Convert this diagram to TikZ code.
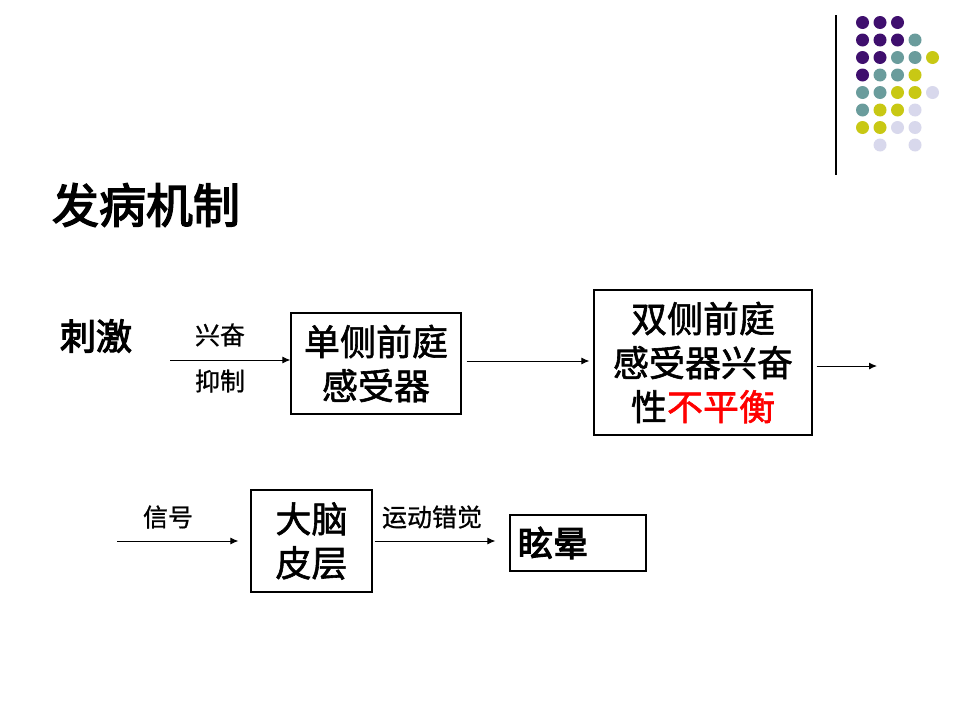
\documentclass[tikz,border=0pt]{standalone}
\usepackage{fontspec}
\setmainfont{Noto Sans CJK SC}
\newfontfamily\cjkmed[FakeBold=1.6]{Noto Sans CJK SC}
\newfontfamily\cjklbl[FakeBold=0.8]{Noto Sans CJK SC}
\newfontfamily\cjkhvy[FakeBold=3]{Noto Sans CJK SC}
\usetikzlibrary{arrows.meta}
\definecolor{dpurple}{HTML}{3F0F6E}
\definecolor{dteal}{HTML}{6A9C9C}
\definecolor{dyellow}{HTML}{C8C814}
\definecolor{dlav}{HTML}{D8D8EC}
\definecolor{dred}{HTML}{FF0000}
\tikzset{
  boxn/.style={draw=black, line width=1.2pt, align=center, inner sep=0pt,
    font=\cjkmed\fontsize{36}{44}\selectfont},
  lbl/.style={font=\cjklbl\fontsize{25}{30}\selectfont, inner sep=0pt},
  arr/.style={draw=black, line width=1pt, -{Latex[length=8pt,width=7pt]}},
  dot/.style={circle, minimum size=13pt, inner sep=0pt}
}
\begin{document}
\begin{tikzpicture}[x=1pt,y=-1pt]
\useasboundingbox (0,0) rectangle (960,720);
\fill[white] (0,0) rectangle (960,720);
% decorative line and dots
\draw[line width=1.2pt] (836,15) -- (836,175);
\foreach \c/\r/\col in {0/0/dpurple,1/0/dpurple,2/0/dpurple,
  0/1/dpurple,1/1/dpurple,2/1/dpurple,3/1/dteal,
  0/2/dpurple,1/2/dpurple,2/2/dteal,3/2/dteal,4/2/dyellow,
  0/3/dpurple,1/3/dteal,2/3/dteal,3/3/dyellow,
  0/4/dteal,1/4/dteal,2/4/dyellow,3/4/dyellow,4/4/dlav,
  0/5/dteal,1/5/dyellow,2/5/dyellow,3/5/dlav,
  0/6/dyellow,1/6/dyellow,2/6/dlav,3/6/dlav,
  1/7/dlav,3/7/dlav}
  \node[dot, fill=\col] (d\c\r) at ({862.5+17.5*\c},{22.5+17.5*\r}) {};
% title
\node[font=\cjkhvy\fontsize{47}{50}\selectfont, inner sep=0pt] (title) at (146,205) {发病机制};
\node[font=\cjkhvy\fontsize{36}{40}\selectfont, inner sep=0pt] (stim) at (96,336) {刺激};
% row 1
\node[lbl] (xf) at (220,335) {兴奋};
\node[lbl] (yz) at (220,381) {抑制};
\coordinate (s1) at (170,360);
\node[boxn, minimum width=170pt, minimum height=101pt] (b1) at (376,363.5) {单侧前庭\\感受器};
\node[boxn, minimum width=218pt, minimum height=145pt] (b2) at (703,362.5) {双侧前庭\\感受器兴奋\\性\textcolor{dred}{不平衡}};
\coordinate (e3) at (877,366);
\draw[arr] (s1) -- (s1 -| b1.west);
\draw[arr] ([xshift=5pt,yshift=2.5pt]b1.east) -- ([xshift=-4pt,yshift=1.5pt]b2.west);
\draw[arr] ([xshift=4pt,yshift=-3.5pt]b2.east) -- (e3);
% row 2
\coordinate (s2) at (117,541);
\node[lbl] (xh) at (168,517) {信号};
\node[boxn, minimum width=121pt, minimum height=102pt] (cx) at (311.5,541) {大脑\\皮层};
\node[lbl] (yd) at (432,517) {运动错觉};
\node[boxn, minimum width=136pt, minimum height=56pt, text width=120pt, align=left, inner sep=8pt, font=\cjkhvy\fontsize{35}{40}\selectfont] (xy) at (578,543) {眩晕};
\draw[arr] (s2) -- ([xshift=-12pt]s2 -| cx.west);
\draw[arr] ([xshift=2pt]cx.east) -- ([xshift=-14pt]cx.east -| xy.west);
\end{tikzpicture}
\end{document}
